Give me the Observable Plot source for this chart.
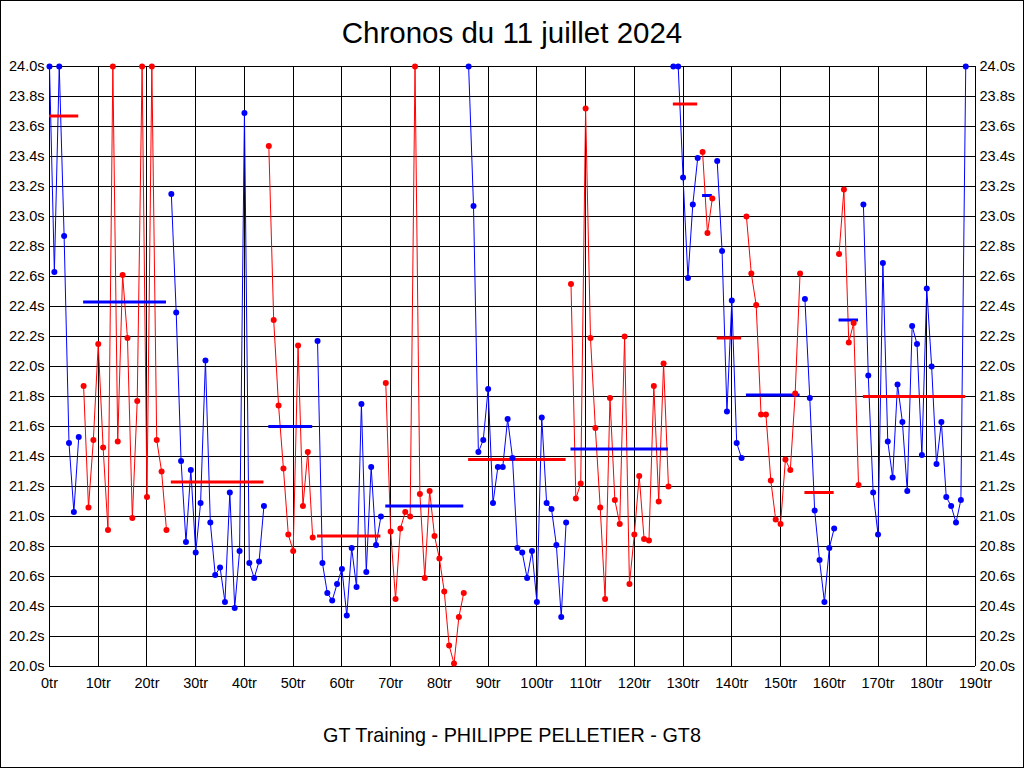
<!DOCTYPE html>
<html>
<head>
<meta charset="utf-8">
<script src="https://cdn.jsdelivr.net/npm/d3@7"></script>
<script src="https://cdn.jsdelivr.net/npm/@observablehq/plot@0.6"></script>
<style>
  body { margin: 0; background: #fff; }
  #wrap { position: relative; width: 1024px; height: 768px; overflow: hidden; background: #fff;
          font-family: "Liberation Sans", Arial, sans-serif; color: #000; }
  #chart svg { display: block; }
  #frame { position: absolute; left: 0; top: 0; width: 1024px; height: 768px; box-sizing: border-box;
           border: 1px solid #000; pointer-events: none; }
  #title { position: absolute; left: 0; width: 1024px; top: 18px; text-align: center;
           font-size: 29.5px; line-height: 29.5px; }
  #caption { position: absolute; left: 0; width: 1024px; top: 726px; text-align: center;
             font-size: 19.8px; line-height: 19.8px; }
</style>
</head>
<body>
<div id="wrap">
  <div id="chart"></div>
  <div id="title">Chronos du 11 juillet 2024</div>
  <div id="caption">GT Training - PHILIPPE PELLETIER - GT8</div>
  <div id="frame"></div>
</div>
<script>
// Lap times (seconds), one per lap 0..188 (values above 24.0 shown clamped at 24.0)
const lapTimes = [
  // laps 0-6
  24.00, 22.63, 24.00, 22.87, 21.49, 21.03, 21.53,
  // laps 7-24
  21.87, 21.06, 21.51, 22.15, 21.46, 20.91, 24.00, 21.50, 22.61, 22.19, 20.99, 21.77, 24.00, 21.13, 24.00, 21.51, 21.30, 20.91,
  // laps 25-44
  23.15, 22.36, 21.37, 20.83, 21.31, 20.76, 21.09, 22.04, 20.96, 20.61, 20.66, 20.43, 21.16, 20.39, 20.77, 23.69, 20.69, 20.59, 20.70, 21.07,
  // laps 45-54
  23.47, 22.31, 21.74, 21.32, 20.88, 20.77, 22.14, 21.07, 21.43, 20.86,
  // laps 55-68
  22.17, 20.69, 20.49, 20.44, 20.55, 20.65, 20.34, 20.79, 20.53, 21.75, 20.63, 21.33, 20.81, 21.00,
  // laps 69-85
  21.89, 20.90, 20.45, 20.92, 21.03, 21.00, 24.00, 21.15, 20.59, 21.17, 20.87, 20.72, 20.50, 20.14, 20.02, 20.33, 20.49,
  // laps 86-106
  24.00, 23.07, 21.43, 21.51, 21.85, 21.09, 21.33, 21.33, 21.65, 21.39, 20.79, 20.76, 20.59, 20.77, 20.43, 21.66, 21.09, 21.05, 20.81, 20.33, 20.96,
  // laps 107-127
  22.55, 21.12, 21.22, 23.72, 22.19, 21.59, 21.06, 20.45, 21.79, 21.11, 20.95, 22.20, 20.55, 20.88, 21.27, 20.85, 20.84, 21.87, 21.10, 22.02, 21.20,
  // laps 128-133
  24.00, 24.00, 23.26, 22.59, 23.08, 23.39,
  // laps 134-136
  23.43, 22.89, 23.12,
  // laps 137-142
  23.37, 22.77, 21.70, 22.44, 21.49, 21.39,
  // laps 143-154
  23.00, 22.62, 22.41, 21.68, 21.68, 21.24, 20.98, 20.95, 21.38, 21.31, 21.82, 22.62,
  // laps 155-161
  22.45, 21.79, 21.04, 20.71, 20.43, 20.79, 20.92,
  // laps 162-166
  22.75, 23.18, 22.16, 22.29, 21.21,
  // laps 167-188
  23.08, 21.94, 21.16, 20.88, 22.69, 21.50, 21.26, 21.88, 21.63, 21.17, 22.27, 22.15, 21.41, 22.52, 22.00, 21.35, 21.63, 21.13, 21.07, 20.96, 21.11, 24.00
];

// First lap of each stint
const stintStarts = [0, 7, 25, 45, 55, 69, 86, 107, 128, 134, 137, 143, 155, 162, 167];
// Reference level drawn over each stint
const stintLevels = [23.67, 22.43, 21.23, 21.60, 20.87, 21.07, 21.38, 21.45, 23.75, 23.14, 22.19, 21.81, 21.16, 22.31, 21.80];

const pointColors = ["#0000ff", "#ff0000"];
const levelColors = ["#ff0000", "#0000ff"];

const xTicks = d3.range(0, 191, 10);
const yTicks = d3.range(0, 21).map(i => +(20 + i * 0.2).toFixed(1));

const rows = lapTimes.map((t, lap) => {
  const seg = d3.bisectRight(stintStarts, lap) - 1;
  return { lap, t, seg, color: pointColors[seg % 2] };
});
const levels = stintStarts.map((s, i) => ({
  x1: s,
  x2: i < stintStarts.length - 1 ? stintStarts[i + 1] - 1 : lapTimes.length - 1,
  y: stintLevels[i],
  color: levelColors[i % 2]
}));

const fmtY = d => d3.format(".1f")(d) + "s";

const chart = Plot.plot({
  width: 1024,
  height: 768,
  marginLeft: 49,
  marginRight: 49,
  marginTop: 66,
  marginBottom: 102,
  style: { fontFamily: "'Liberation Sans', Arial, sans-serif", fontSize: "14.5px", color: "#000", background: "transparent" },
  x: { domain: [0, 190] },
  y: { domain: [20, 24] },
  marks: [
    Plot.ruleX(xTicks, { stroke: "#000", strokeWidth: 1, strokeOpacity: 1, shapeRendering: "crispEdges" }),
    Plot.ruleY(yTicks, { stroke: "#000", strokeWidth: 1, strokeOpacity: 1, shapeRendering: "crispEdges" }),
    Plot.line(rows, { x: "lap", y: "t", z: "seg", stroke: "color", strokeWidth: 1, curve: "linear" }),
    Plot.ruleY(levels, { y: "y", x1: "x1", x2: "x2", stroke: "color", strokeWidth: 3 }),
    Plot.dot(rows, { x: "lap", y: "t", fill: "color", r: 3, stroke: "none" }),
    Plot.axisX({ ticks: xTicks, tickFormat: d => d + "tr", tickSize: 0, tickPadding: 11, label: null, fontSize: 14.5 }),
    Plot.axisY({ anchor: "left", ticks: yTicks, tickFormat: fmtY, tickSize: 0, tickPadding: 5, label: null, fontSize: 14.5 }),
    Plot.axisY({ anchor: "right", ticks: yTicks, tickFormat: fmtY, tickSize: 0, tickPadding: 4, label: null, fontSize: 14.5 })
  ]
});
document.getElementById("chart").appendChild(chart);
</script>
</body>
</html>
